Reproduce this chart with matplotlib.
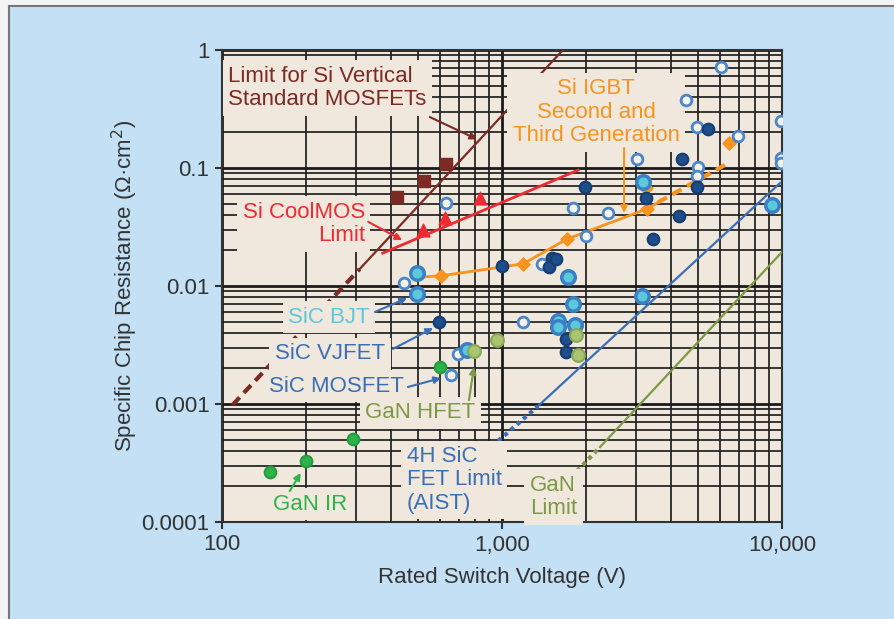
import matplotlib.pyplot as plt
import numpy as np
from matplotlib.patches import Rectangle

plt.rcParams['font.family'] = ['Liberation Sans', 'DejaVu Sans']

# ---- data (V, ohm*cm^2) ----
si_mos_v = [422, 526, 631]
si_mos_r = [0.0568, 0.0776, 0.108]

coolmos_v = [522, 626, 834]
coolmos_r = [0.0298, 0.0377, 0.0557]
coolmos_line_v = [375, 1870]
coolmos_line_r = [0.019, 0.096]

si_limit_dash_v = [109, 310]
si_limit_dash_r = [0.00098, 0.0139]
si_limit_v = [310, 1650]
si_limit_r = [0.0139, 1.0]

igbt_v = [605, 1189, 1707, 3295, 3270, 6467]
igbt_r = [0.0122, 0.0154, 0.025, 0.045, 0.0677, 0.163]
igbt_line_v = [510, 605, 1189, 1707, 3295, 3600]
igbt_line_r = [0.0119, 0.0122, 0.0154, 0.025, 0.045, 0.051]
igbt_dash_v = [3600, 6250]
igbt_dash_r = [0.051, 0.106]

sic_open_v = [631, 447, 1390, 1793, 2391, 1995, 3036, 6055, 4541, 4972, 6966,
              9920, 9920, 9920, 5012, 4972, 1189, 697, 657]
sic_open_r = [0.0505, 0.0106, 0.0154, 0.0458, 0.0416, 0.0265, 0.119, 0.718, 0.377,
              0.222, 0.187, 0.250, 0.122, 0.110, 0.102, 0.0855, 0.00495, 0.00265, 0.00176]

sic_bjt_v = [498, 498, 1720, 3190, 3160, 1793, 1585, 1585, 1822, 9211, 751]
sic_bjt_r = [0.0129, 0.00855, 0.0119, 0.076, 0.0082, 0.00704, 0.00505, 0.0045,
             0.00467, 0.0486, 0.00287]

vjfet_v = [1000, 1509, 1475, 1560, 1979, 3268, 4288, 3463, 4395, 4972, 5439, 595, 1692, 1692]
vjfet_r = [0.0148, 0.0173, 0.0145, 0.0168, 0.069, 0.0557, 0.0392, 0.025, 0.119,
           0.069, 0.214, 0.00495, 0.00356, 0.00276]

gan_hfet_v = [794, 960, 1837, 1870]
gan_hfet_r = [0.00281, 0.00349, 0.00384, 0.0026]

gan_ir_v = [148, 200, 294, 601]
gan_ir_r = [0.000265, 0.000329, 0.000505, 0.00206]

sic_limit_dot_v = [968, 1345]
sic_limit_dot_r = [0.000486, 0.00096]
sic_limit_v = [1345, 9840]
sic_limit_r = [0.00096, 0.0746]

gan_limit_dot_v = [1853, 2240]
gan_limit_dot_r = [0.00027, 0.000432]
gan_limit_v = [2240, 10000]
gan_limit_r = [0.000432, 0.0194]

x_ticks = [100, 1000, 10000]
x_labels = ['100', '1,000', '10,000']
y_ticks = [0.0001, 0.001, 0.01, 0.1, 1]
y_labels = ['0.0001', '0.001', '0.01', '0.1', '1']

# ---- colours ----
bg_fig = '#c3e0f4'
bg_ax = '#f0e8dc'
brown = '#7b2a24'
red = '#ee2a33'
orange = '#f7931e'
blue = '#3a6fb8'
cyan = '#5cc8dc'
navy = '#1e4d8b'
olive = '#7c9a45'
lgreen = '#a9c56f'
green = '#2eb34b'

fig = plt.figure(figsize=(8.94, 6.19), dpi=100, facecolor='#f4f4f4')
fig.patches.append(Rectangle((9 / 894, -0.05), 1.0, 1 - 6 / 619 + 0.05,
                             transform=fig.transFigure, facecolor=bg_fig,
                             edgecolor='#777777', lw=1.5, zorder=-10))
ax = fig.add_axes([222 / 894, 1 - 522 / 619, 560 / 894, 472 / 619])
ax.set_facecolor(bg_ax)
ax.set_xscale('log')
ax.set_yscale('log')
ax.set_xlim(100, 10000)
ax.set_ylim(0.0001, 1)
ax.set_axisbelow(True)
ax.grid(True, which='major', color='#1a1a1a', lw=2.0)
ax.grid(True, which='minor', color='#222222', lw=1.4, alpha=0.9)

ax.set_xticks(x_ticks, x_labels)
ax.set_yticks(y_ticks, y_labels)
ax.tick_params(which='major', length=5, width=1.5, labelsize=16, colors='#333333', pad=4)
ax.tick_params(which='minor', length=0)
for s in ax.spines.values():
    s.set_color('#333333')
    s.set_linewidth(1.5)
ax.set_xlabel('Rated Switch Voltage (V)', fontsize=16, color='#333333', labelpad=8)
ax.set_ylabel('Specific Chip Resistance (Ω·cm$^2$)', fontsize=16, color='#333333', labelpad=1)

# limit lines
ax.plot(si_limit_dash_v, si_limit_dash_r, color=brown, lw=3, dashes=(2.5, 1.5), zorder=3)
ax.plot(si_limit_v, si_limit_r, color=brown, lw=1.6, zorder=3)
ax.plot(coolmos_line_v, coolmos_line_r, color=red, lw=2, zorder=3)
ax.plot(sic_limit_dot_v, sic_limit_dot_r, color=blue, lw=3, dashes=(1, 1), zorder=3)
ax.plot(sic_limit_v, sic_limit_r, color=blue, lw=1.6, zorder=3)
ax.plot(gan_limit_dot_v, gan_limit_dot_r, color=olive, lw=3, dashes=(1, 1), zorder=3)
ax.plot(gan_limit_v, gan_limit_r, color=olive, lw=1.6, zorder=3)
ax.plot(igbt_line_v, igbt_line_r, color=orange, lw=2, zorder=3)
ax.plot(igbt_dash_v, igbt_dash_r, color=orange, lw=3, dashes=(2.5, 1.5), zorder=3)

# markers
ax.scatter(si_mos_v, si_mos_r, marker='s', s=75, color=brown, zorder=5)
ax.scatter(coolmos_v, coolmos_r, marker='^', s=85, color=red, zorder=5)
ax.scatter(igbt_v, igbt_r, marker='D', s=45, color=orange, zorder=5)
ax.scatter(sic_open_v, sic_open_r, s=60, facecolor='#f6f3ee', edgecolor='#4a86c8', lw=2, zorder=5)
ax.scatter(sic_bjt_v, sic_bjt_r, s=95, facecolor=cyan, edgecolor='#3b7fc4', lw=2.5, zorder=5)
ax.scatter(vjfet_v, vjfet_r, s=70, facecolor=navy, edgecolor='#163d70', lw=1.5, zorder=6)
ax.scatter(gan_hfet_v, gan_hfet_r, s=85, facecolor=lgreen, edgecolor='#8ba858', lw=1.5, zorder=6)
ax.scatter(gan_ir_v, gan_ir_r, s=70, facecolor=green, edgecolor='#259a3e', lw=1.5, zorder=6)

box = dict(facecolor=bg_ax, edgecolor='none', pad=4)
txt = dict(fontsize=16, zorder=4, transform=ax.transAxes, bbox=box, linespacing=1.15)

ax.text(0.011, 0.92, 'Limit for Si Vertical\nStandard MOSFETs', color=brown,
        ha='left', va='center', **txt)
ax.text(0.668, 0.868, 'Si IGBT\nSecond and\nThird Generation', color=orange,
        ha='center', va='center', multialignment='center', **txt)
ax.text(0.255, 0.631, 'Si CoolMOS\nLimit', color=red, ha='right', va='center',
        multialignment='right', **txt)
ax.text(0.191, 0.434, 'SiC BJT', color=cyan, ha='center', va='center', **txt)
ax.text(0.193, 0.356, 'SiC VJFET', color=blue, ha='center', va='center', **txt)
ax.text(0.205, 0.288, 'SiC MOSFET', color=blue, ha='center', va='center', **txt)
ax.text(0.354, 0.231, 'GaN HFET', color=olive, ha='center', va='center', **txt)
ax.text(0.157, 0.038, 'GaN IR', color=green, ha='center', va='center', **txt)
ax.text(0.330, 0.089, '4H SiC\nFET Limit\n(AIST)', color=blue, ha='left', va='center', **txt)
ax.text(0.550, 0.053, 'GaN\nLimit', color=olive, ha='left', va='center', **txt)


def arrow(start, target, color):
    ax.annotate('', xy=target, xycoords='data', xytext=start, textcoords='axes fraction',
                arrowprops=dict(arrowstyle='-|>', color=color, lw=1.5, mutation_scale=10,
                                shrinkA=0, shrinkB=0), zorder=5)


arrow((0.371, 0.858), (815, 0.175), brown)
arrow((0.261, 0.636), (440, 0.0245), red)
arrow((0.718, 0.792), (2729, 0.0416), orange)
arrow((0.273, 0.445), (458, 0.0079), blue)
arrow((0.305, 0.3665), (567, 0.0044), blue)
arrow((0.332, 0.286), (606, 0.00166), blue)
arrow((0.441, 0.258), (794, 0.00206), olive)
arrow((0.121, 0.0657), (191, 0.00026), green)

fig.savefig('out.png', dpi=100, facecolor=fig.get_facecolor())
